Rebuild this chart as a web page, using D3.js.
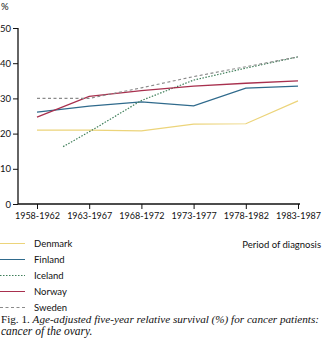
<!DOCTYPE html>
<html><head><meta charset="utf-8">
<script src="https://cdn.jsdelivr.net/npm/d3@7"></script>
<style>body{margin:0;background:#fff}svg{display:block}</style>
</head><body>
<script>
const periods = ["1958-1962","1963-1967","1968-1972","1973-1977","1978-1982","1983-1987"];
const yTicks = [0,10,20,30,40,50];
const denmark = [21.0, 21.0, 20.8, 22.7, 22.8, 29.3];
const finland = [26.1, 27.8, 29.0, 27.9, 32.9, 33.5];
const icelandPos = [0.5, 1, 2, 3, 4, 5];
const iceland = [16.3, 20.5, 29.4, 35.2, 38.6, 41.8];
const norway = [24.7, 30.6, 32.2, 33.5, 34.3, 35.0];
const sweden = [30.0, 30.0, 33.0, 36.2, 39.0, 41.8];
const seriesNames = ["Denmark","Finland","Iceland","Norway","Sweden"];

const W = 323, H = 348;
const svg = d3.select("body").append("svg").attr("width", W).attr("height", H);
const font = "Lato, 'Open Sans', sans-serif";
const serif = "'Liberation Serif', 'Times New Roman', serif";

const x = d3.scaleLinear().domain([0, periods.length - 1]).range([37, 298]);
const y = d3.scaleLinear().domain([0, 50]).range([204, 28]);

const series = [
  {name:"Denmark", pos: d3.range(periods.length), vals: denmark, color:"#ecd47a", dash:null, w:1.2},
  {name:"Finland", pos: d3.range(periods.length), vals: finland, color:"#2f6a8c", dash:null, w:1.2},
  {name:"Iceland", pos: icelandPos, vals: iceland, color:"#3f7f5a", dash:"1.5,1.5", w:1.2},
  {name:"Norway", pos: d3.range(periods.length), vals: norway, color:"#a8304e", dash:null, w:1.3},
  {name:"Sweden", pos: d3.range(periods.length), vals: sweden, color:"#8a8a8a", dash:"3,2.5", w:1.1}
];

// axes
const yAxis = d3.axisLeft(y).tickValues(yTicks).tickSize(5).tickPadding(2);
const gy = svg.append("g").attr("transform","translate(18,0)").call(yAxis);
gy.select(".domain").attr("d","M0,28V204").attr("stroke","#111").attr("stroke-width",1.3);
gy.selectAll(".tick line").attr("stroke","#111");
gy.selectAll("text").attr("font-family",font).attr("font-size",9.5).attr("fill","#111");

const xAxis = d3.axisBottom(x).tickValues(d3.range(periods.length)).tickFormat(i => periods[i]).tickSize(5).tickPadding(4);
const gx = svg.append("g").attr("transform","translate(0,204)").call(xAxis);
gx.select(".domain").attr("d","M18,0H300").attr("stroke","#111").attr("stroke-width",1.3);
gx.selectAll(".tick line").attr("stroke","#111");
gx.selectAll("text").attr("font-family",font).attr("font-size",9).attr("fill","#111");

svg.append("text").attr("x",1).attr("y",10).text("%")
  .attr("font-family",font).attr("font-size",9.5).attr("fill","#111");

const line = d3.line().x(d => x(d[0])).y(d => y(d[1]));
series.forEach(s => {
  svg.append("path")
    .attr("d", line(s.pos.map((p,i) => [p, s.vals[i]])))
    .attr("fill","none").attr("stroke",s.color).attr("stroke-width",s.w)
    .attr("stroke-dasharray", s.dash);
});

// legend
const lg = svg.append("g");
series.forEach((s,i) => {
  const yy = 243.5 + i*16;
  lg.append("line").attr("x1",0).attr("x2",25).attr("y1",yy).attr("y2",yy)
    .attr("stroke",s.color).attr("stroke-width",1).attr("stroke-dasharray", s.dash);
  lg.append("text").attr("x",34).attr("y",yy+3.3).text(s.name)
    .attr("font-family",font).attr("font-size",9.5).attr("fill","#111");
});

svg.append("text").attr("x",321).attr("y",247.5).attr("text-anchor","end")
  .text("Period of diagnosis").attr("font-family",font).attr("font-size",9.5).attr("fill","#111");

const cap = svg.append("text").attr("x",1).attr("y",323)
  .attr("font-family",serif).attr("font-size",11).attr("fill","#111")
  .attr("textLength",318).attr("lengthAdjust","spacingAndGlyphs");
cap.append("tspan").text("Fig. 1. ");
cap.append("tspan").attr("font-style","italic").text("Age-adjusted five-year relative survival (%) for cancer patients:");
svg.append("text").attr("x",1).attr("y",335).attr("font-family",serif)
  .attr("font-size",11.5).attr("font-style","italic").attr("fill","#111").text("cancer of the ovary.");
</script>
</body></html>
